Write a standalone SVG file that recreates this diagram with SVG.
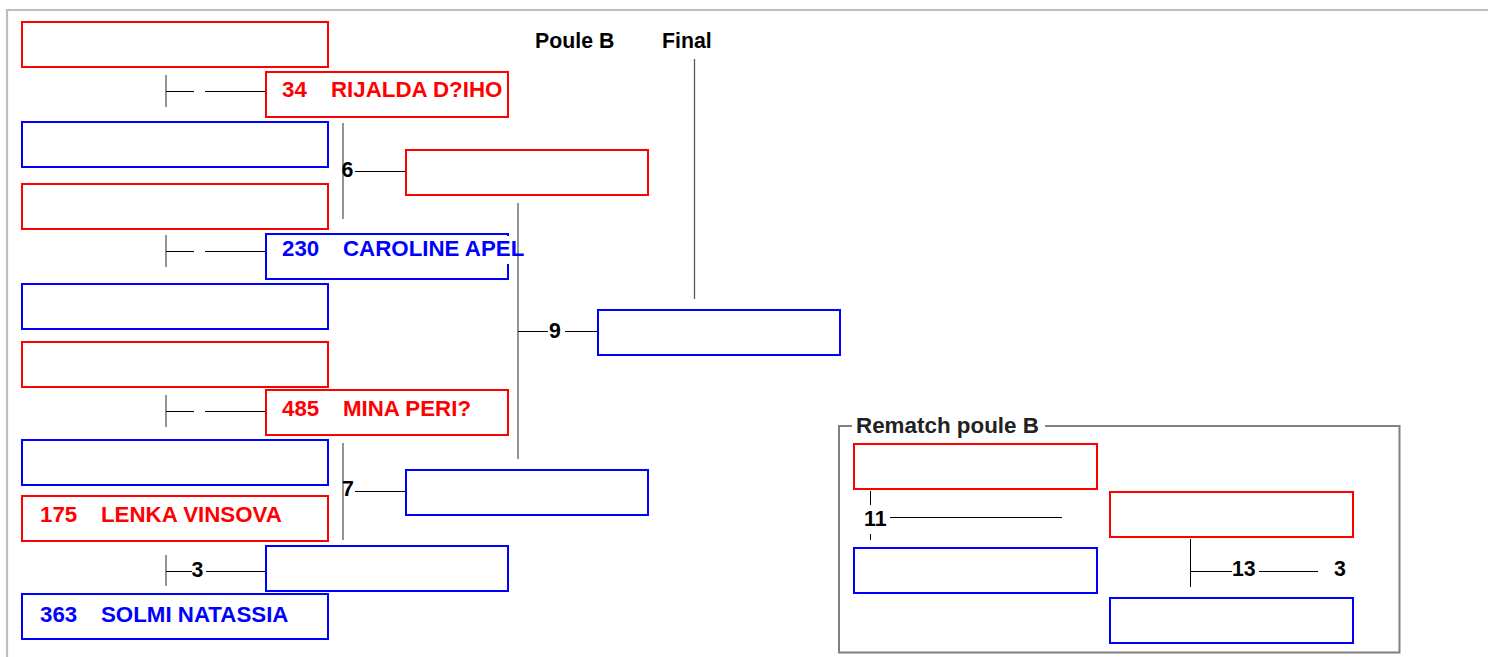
<svg xmlns="http://www.w3.org/2000/svg" width="1488" height="657" viewBox="0 0 1488 657">
<style>
  text { font-family: "Liberation Sans", Arial, sans-serif; font-weight: bold; font-size: 21.3px; }
  .r { fill: #fff; stroke: #ff0000; stroke-width: 2; }
  .b { fill: #fff; stroke: #0000ff; stroke-width: 2; }
  .tr { fill: #ff0000; font-size: 22.3px; }
  .tb { fill: #0000ff; font-size: 22.3px; }
  .lbl { fill: #000; }
  .h { stroke: #000; stroke-width: 1; fill: none; }
  .v { stroke: #5a5a5a; stroke-width: 1.3; fill: none; }
  .vk { stroke: #000; stroke-width: 1; fill: none; }
</style>
<rect x="0" y="0" width="1488" height="657" fill="#fff"/>
<path d="M7 657 V10 H1488" fill="none" stroke="#bdbdbd" stroke-width="2.2"/>

<g id="headers">
  <text x="535" y="48" class="lbl">Poule B</text>
  <text x="662" y="48" class="lbl">Final</text>
</g>

<g id="connectors">
  <path class="v" d="M166 75 V107"/>
  <path class="h" d="M166 91.5 H194 M205 91.5 H265"/>
  <path class="v" d="M166 235 V267"/>
  <path class="h" d="M166 251.5 H194 M205 251.5 H265"/>
  <path class="v" d="M166 395 V427"/>
  <path class="h" d="M166 411.5 H194 M205 411.5 H265"/>
  <path class="v" d="M166 555 V586"/>
  <path class="h" d="M166 571.5 H192 M206 571.5 H265"/>
  <path class="v" d="M343 123 V219"/>
  <path class="h" d="M355 171.5 H405"/>
  <path class="v" d="M343 443 V540"/>
  <path class="h" d="M355 491.5 H405"/>
  <path class="v" d="M518 203 V459"/>
  <path class="h" d="M518 331.5 H548 M565 331.5 H597"/>
  <path class="v" d="M694.5 59 V299"/>
  <path class="vk" d="M870.5 491 V505 M870.5 534 V540"/>
  <path class="h" d="M890 517.5 H1062"/>
  <path class="vk" d="M1190.5 539 V587"/>
  <path class="h" d="M1190 571.5 H1232 M1259 571.5 H1318"/>
</g>

<g id="labels">
  <text x="341.5" y="177" class="lbl">6</text>
  <text x="342" y="496" class="lbl">7</text>
  <text x="549" y="338" class="lbl">9</text>
  <text x="191.5" y="577" class="lbl">3</text>
  <text x="864" y="526" class="lbl">11</text>
  <text x="1232" y="576" class="lbl">13</text>
  <text x="1334" y="576" class="lbl">3</text>
</g>

<g id="col1">
  <g id="n1"><rect class="r" x="22" y="22" width="306" height="45"/></g>
  <g id="n2"><rect class="b" x="22" y="122" width="306" height="45"/></g>
  <g id="n3"><rect class="r" x="22" y="184" width="306" height="45"/></g>
  <g id="n4"><rect class="b" x="22" y="284" width="306" height="45"/></g>
  <g id="n5"><rect class="r" x="22" y="342" width="306" height="45"/></g>
  <g id="n6"><rect class="b" x="22" y="440" width="306" height="45"/></g>
  <g id="n7"><rect class="r" x="22" y="496" width="306" height="45"/>
    <text class="tr" x="40" y="522"><tspan>175</tspan><tspan x="101">LENKA VINSOVA</tspan></text></g>
  <g id="n8"><rect class="b" x="22" y="594" width="306" height="45"/>
    <text class="tb" x="40" y="622"><tspan>363</tspan><tspan x="101">SOLMI NATASSIA</tspan></text></g>
</g>

<g id="col2">
  <g id="m1"><rect class="r" x="266" y="72" width="242" height="45"/>
    <text class="tr" x="282" y="97"><tspan>34</tspan><tspan x="331">RIJALDA D?IHO</tspan></text></g>
  <g id="m2"><rect class="b" x="266" y="234" width="242" height="45"/>
    <rect x="505" y="236" width="5" height="28" fill="#fff"/>
    <text class="tb" x="282" y="256"><tspan>230</tspan><tspan x="343">CAROLINE APEL</tspan></text></g>
  <g id="m3"><rect class="r" x="266" y="390" width="242" height="45"/>
    <text class="tr" x="282" y="416"><tspan>485</tspan><tspan x="343">MINA PERI?</tspan></text></g>
  <g id="m4"><rect class="b" x="266" y="546" width="242" height="45"/></g>
</g>

<g id="col3">
  <g id="q1"><rect class="r" x="406" y="150" width="242" height="45"/></g>
  <g id="q2"><rect class="b" x="406" y="470" width="242" height="45"/></g>
</g>

<g id="col4">
  <g id="f1"><rect class="b" x="598" y="310" width="242" height="45"/></g>
</g>

<g id="rematch">
  <path d="M852 426 H839 V652.5 H1399.5 V426 H1045" fill="none" stroke="#808080" stroke-width="2"/>
  <text x="856" y="433" fill="#222" style="font-size:22.4px;font-weight:bold">Rematch poule B</text>
  <g id="r1"><rect class="r" x="854" y="444" width="243" height="45"/></g>
  <g id="r2"><rect class="b" x="854" y="548" width="243" height="45"/></g>
  <g id="r3"><rect class="r" x="1110" y="492" width="243" height="45"/></g>
  <g id="r4"><rect class="b" x="1110" y="598" width="243" height="45"/></g>
</g>
</svg>
